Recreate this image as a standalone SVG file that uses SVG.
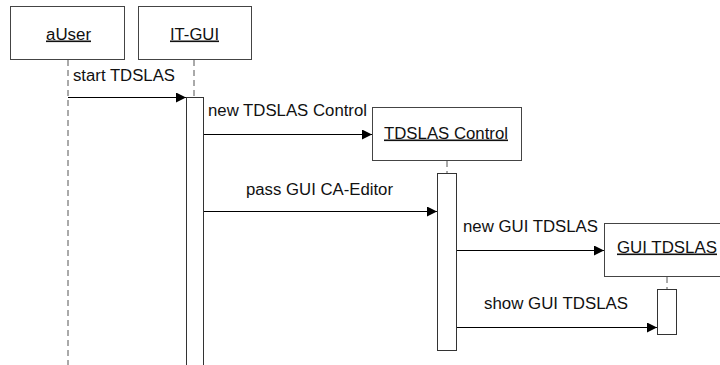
<svg xmlns="http://www.w3.org/2000/svg" width="720" height="365" viewBox="0 0 720 365">
<defs>
<marker id="ah" markerWidth="10" markerHeight="10" refX="10" refY="5" orient="auto" markerUnits="userSpaceOnUse">
<path d="M0,0 L10,5 L0,10 Z" fill="#000"/>
</marker>
<style>
.box{fill:#fff;stroke:#444;stroke-width:1}
.act{fill:#fff;stroke:#333;stroke-width:1}
.life{stroke:#555;stroke-width:1;stroke-dasharray:6,4;fill:none}
.msg{stroke:#000;stroke-width:1;fill:none;marker-end:url(#ah)}
text{font-family:"Liberation Sans",Arial,sans-serif;font-size:16px;fill:#111}
.u{text-decoration:underline}
</style>
</defs>
<rect width="720" height="365" fill="#fff"/>
<g id="lifelines">
<line class="life" x1="68" y1="60" x2="68" y2="365"/>
<line class="life" x1="194" y1="60" x2="194" y2="97"/>
<line class="life" x1="447" y1="161" x2="447" y2="173"/>
<line class="life" x1="667" y1="277" x2="667" y2="289"/>
</g>
<g id="aUser">
<rect class="box" x="10.5" y="6.5" width="114" height="53"/>
<text class="u" x="46" y="39.5" textLength="45" lengthAdjust="spacingAndGlyphs">aUser</text>
</g>
<g id="IT-GUI">
<rect class="box" x="138.5" y="6.5" width="113" height="53"/>
<text class="u" x="170" y="39.5" textLength="49" lengthAdjust="spacingAndGlyphs">IT-GUI</text>
<rect class="act" x="186.5" y="97.5" width="17" height="275"/>
</g>
<g id="TDSLAS-Control">
<rect class="box" x="372.5" y="107.5" width="149" height="53"/>
<text class="u" x="384" y="138.5" textLength="124" lengthAdjust="spacingAndGlyphs">TDSLAS Control</text>
<rect class="act" x="437.5" y="173.5" width="19" height="177"/>
</g>
<g id="GUI-TDSLAS">
<rect class="box" x="604.5" y="223.5" width="125" height="53"/>
<text class="u" x="617" y="252.5" textLength="100" lengthAdjust="spacingAndGlyphs">GUI TDSLAS</text>
<rect class="act" x="657.5" y="289.5" width="19" height="45"/>
</g>
<g id="connectors">
<line class="msg" x1="68" y1="97.5" x2="186" y2="97.5"/>
<text x="73" y="81" textLength="102" lengthAdjust="spacingAndGlyphs">start TDSLAS</text>
<line class="msg" x1="204" y1="134.5" x2="372" y2="134.5"/>
<text x="208" y="116" textLength="159" lengthAdjust="spacingAndGlyphs">new TDSLAS Control</text>
<line class="msg" x1="204" y1="211.5" x2="437" y2="211.5"/>
<text x="246" y="195" textLength="147" lengthAdjust="spacingAndGlyphs">pass GUI CA-Editor</text>
<line class="msg" x1="457" y1="250.5" x2="604" y2="250.5"/>
<text x="463" y="232" textLength="135" lengthAdjust="spacingAndGlyphs">new GUI TDSLAS</text>
<line class="msg" x1="457" y1="327.5" x2="657" y2="327.5"/>
<text x="484" y="309" textLength="144" lengthAdjust="spacingAndGlyphs">show GUI TDSLAS</text>
</g>
</svg>
